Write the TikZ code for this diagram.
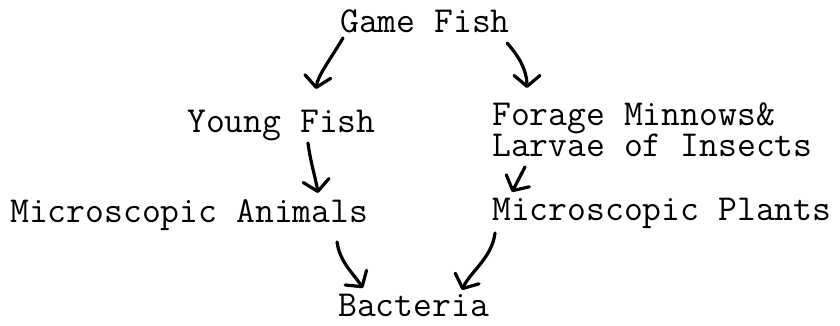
\documentclass[tikz,border=0pt]{standalone}
\usetikzlibrary{arrows.meta,calc}
\begin{document}
\begin{tikzpicture}[x=1pt,y=-1pt,
  lbl/.style={anchor=base west,inner sep=0pt,font=\ttfamily\fontsize{36.6}{31}\selectfont},
  flow/.style={line width=3.2pt,line cap=round,line join=round,
    -{Straight Barb[length=11pt,width=26pt,line cap=round,line join=round]}}]
\useasboundingbox (0,0) rectangle (840,325);
\node[lbl] (gf)  at (340,32)  {Game Fish};
\node[lbl] (yf)  at (187,132) {Young Fish};
\node[lbl,align=left] (fm) at (492,156) {Forage Minnows\&\\Larvae of Insects};
\node[lbl] (ma)  at (10,222)  {Microscopic Animals};
\node[lbl] (mp)  at (492,220) {Microscopic Plants};
\node[lbl] (ba)  at (338,316) {Bacteria};
% Game Fish -> Young Fish
\draw[flow] ($(gf.base west)+(3,6)$) .. controls ($(gf.base west)+(-10,28)$) and ($(yf.base west)+(131,-57)$) .. ($(yf.base west)+(129,-43)$);
% Game Fish -> Forage
\draw[flow] ($(gf.base west)+(167,11)$) .. controls ($(gf.base west)+(178,23)$) and ($(fm.base west)+(35,-86)$) .. ($(fm.base west)+(35,-68)$);
% Young Fish -> Microscopic Animals
\draw[flow] ($(yf.base west)+(121,11)$) .. controls ($(yf.base west)+(123,28)$) and ($(ma.base west)+(306,-42)$) .. ($(ma.base west)+(308,-29)$);
% Microscopic Animals -> Bacteria
\draw[flow] ($(ma.base west)+(327,20)$) .. controls ($(ma.base west)+(330,40)$) and ($(ba.base west)+(14,-44)$) .. ($(ba.base west)+(25,-28)$);
% Forage -> Microscopic Plants
\draw[flow] ($(fm.base west)+(33,11)$) -- ($(mp.base west)+(20,-28)$);
% Microscopic Plants -> Bacteria
\draw[flow] ($(mp.base west)+(3,13)$) .. controls ($(mp.base west)+(0,38)$) and ($(ba.base west)+(132,-44)$) .. ($(ba.base west)+(124,-26)$);
\end{tikzpicture}
\end{document}
